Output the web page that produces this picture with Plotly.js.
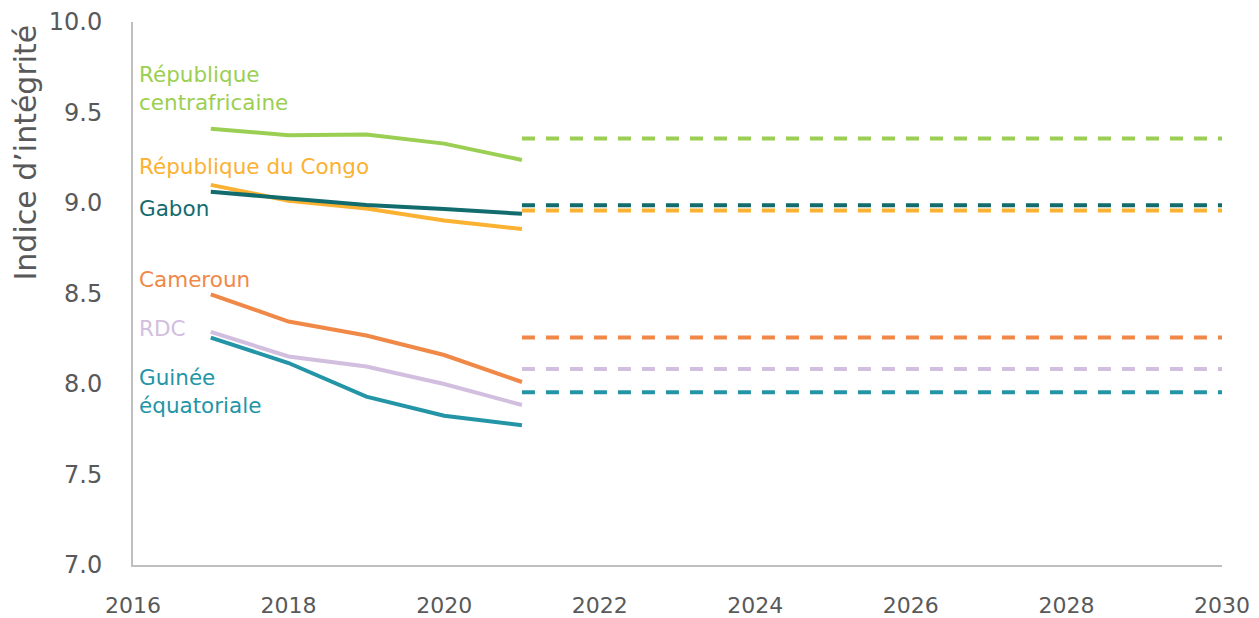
<!DOCTYPE html>
<html>
<head>
<meta charset="utf-8">
<script src="https://cdn.plot.ly/plotly-3.0.1.min.js"></script>
<style>html,body{margin:0;padding:0;background:#fff;}#chart{width:1259px;height:618px;}</style>
</head>
<body>
<div id="chart"></div>
<script>
// Data
const years = [2017, 2018, 2019, 2020, 2021];
const targetYears = [2021, 2030];
const countries = ["République centrafricaine", "République du Congo", "Gabon", "Cameroun", "RDC", "Guinée équatoriale"];
const labelTexts = ["République<br>centrafricaine", "République du Congo", "Gabon", "Cameroun", "RDC", "Guinée<br>équatoriale"];
const labelY = [9.633, 9.20, 8.967, 8.575, 8.304, 7.961];
const rcaValues = [9.41, 9.375, 9.378, 9.328, 9.238];
const congoValues = [9.10, 9.013, 8.970, 8.903, 8.856];
const gabonValues = [9.062, 9.024, 8.989, 8.967, 8.940];
const camerounValues = [8.495, 8.345, 8.268, 8.160, 8.011];
const rdcValues = [8.288, 8.152, 8.097, 8.000, 7.884];
const guineeValues = [8.256, 8.116, 7.930, 7.825, 7.772];
const targets = [9.357, 8.959, 8.987, 8.257, 8.083, 7.955];
const colors = ["#9BCF53", "#FBB131", "#126B6D", "#F08847", "#D2BEDE", "#2395A7"];
const yTitle = "Indice d’intégrité";

const series = [rcaValues, congoValues, gabonValues, camerounValues, rdcValues, guineeValues];

const traces = [];
series.forEach((vals, i) => {
  traces.push({
    x: years, y: vals, type: "scatter", mode: "lines", name: countries[i],
    line: {color: colors[i], width: 4, shape: "linear"}, hoverinfo: "skip"
  });
});
targets.forEach((t, i) => {
  traces.push({
    x: targetYears, y: [t, t], type: "scatter", mode: "lines", name: countries[i] + " (cible)",
    line: {color: colors[i], width: 4, dash: "13px,11px"}, hoverinfo: "skip"
  });
});

const annotations = labelTexts.map((txt, i) => ({
  text: txt, xref: "paper", x: 0.004, xanchor: "left",
  yref: "y", y: labelY[i], yanchor: "middle", align: "left", showarrow: false,
  font: {family: "DejaVu Sans", size: 21.5, color: colors[i]}
}));
annotations.push({
  text: yTitle, xref: "paper", x: -0.099, xanchor: "center",
  yref: "paper", y: 0.76, yanchor: "middle", textangle: -90, showarrow: false,
  font: {family: "DejaVu Sans", size: 30, color: "#595959"}
});

const layout = {
  width: 1259, height: 618,
  margin: {l: 133, r: 37, t: 22, b: 53},
  paper_bgcolor: "#ffffff", plot_bgcolor: "#ffffff",
  showlegend: false,
  font: {family: "DejaVu Sans", color: "#595959"},
  xaxis: {
    range: [2016, 2030], tickvals: [2016, 2018, 2020, 2022, 2024, 2026, 2028, 2030],
    showgrid: false, zeroline: false, showline: true, linecolor: "#BFBFBF", linewidth: 2,
    ticks: "outside", ticklen: 20, tickcolor: "rgba(0,0,0,0)",
    tickfont: {family: "DejaVu Sans", size: 22, color: "#595959"}
  },
  yaxis: {
    range: [7, 10], tickvals: [7, 7.5, 8, 8.5, 9, 9.5, 10], tickformat: ".1f",
    showgrid: false, zeroline: false, showline: true, linecolor: "#BFBFBF", linewidth: 2,
    ticks: "outside", ticklen: 24, tickcolor: "rgba(0,0,0,0)",
    tickfont: {family: "DejaVu Sans", size: 24, color: "#595959"}
  },
  annotations: annotations
};

Plotly.newPlot("chart", traces, layout, {staticPlot: true, displayModeBar: false});
</script>
</body>
</html>
